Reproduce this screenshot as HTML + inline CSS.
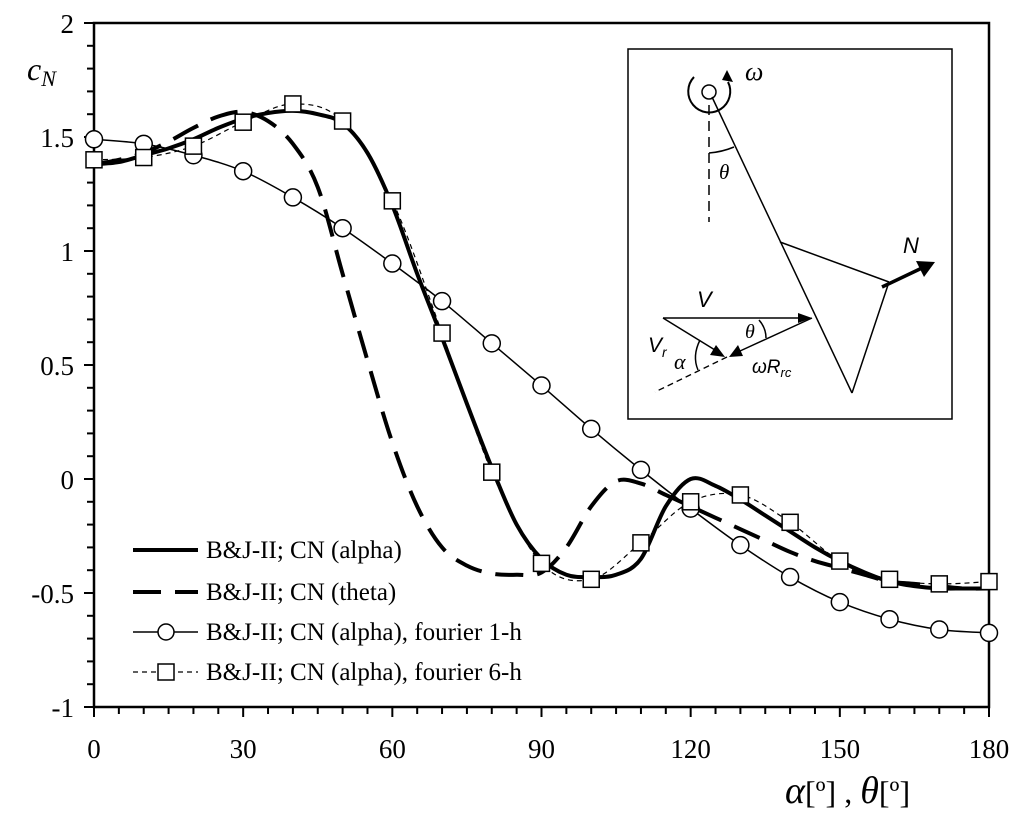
<!DOCTYPE html>
<html><head><meta charset="utf-8"><style>
html,body{margin:0;padding:0;background:#fff;}
svg{display:block;font-family:"Liberation Serif",serif;}
</style></head><body>
<svg id="chart" width="1024" height="817" viewBox="0 0 1024 817">
<g id="axes"></g><g id="series"></g>
<g id="inset">
<rect x="628" y="49" width="324" height="370" fill="#fff" stroke="#000" stroke-width="1.5"/>
<circle cx="709" cy="92" r="7" fill="#fff" stroke="#000" stroke-width="1.5"/>
<path d="M694,77 A21,21 0 1,0 728,82" fill="none" stroke="#000" stroke-width="2"/>
<polygon points="727,70 733,82 722,80" fill="#000"/>
<text x="745" y="80" font-size="26" font-style="italic" font-family="Liberation Serif,serif">ω</text>
<line x1="709" y1="105" x2="709" y2="222" stroke="#000" stroke-width="1.5" stroke-dasharray="10,6"/>
<line x1="712" y1="97" x2="852" y2="393" stroke="#000" stroke-width="1.5"/>
<line x1="780" y1="242" x2="889" y2="282" stroke="#000" stroke-width="1.5"/>
<line x1="889" y1="282" x2="852" y2="393" stroke="#000" stroke-width="1.5"/>
<line x1="882" y1="287" x2="922" y2="268" stroke="#000" stroke-width="3.5"/>
<polygon points="935,262 916,261 924,277" fill="#000"/>
<text x="903" y="253" font-size="22" font-style="italic" font-family="Liberation Sans,sans-serif">N</text>
<path d="M709,153 Q722,152 734,147" fill="none" stroke="#000" stroke-width="1.5"/>
<text x="719" y="179" font-size="21" font-style="italic">θ</text>
<line x1="663" y1="318" x2="800" y2="318" stroke="#000" stroke-width="1.5"/>
<polygon points="812,318 798,313 798,323" fill="#000"/>
<text x="697" y="307" font-size="22" font-style="italic" font-family="Liberation Sans,sans-serif">V</text>
<line x1="663" y1="318" x2="715" y2="350" stroke="#000" stroke-width="1.5"/>
<polygon points="725,357 710,355 716,345" fill="#000"/>
<text x="648" y="352" font-size="21" font-style="italic" font-family="Liberation Sans,sans-serif">V<tspan font-size="14" dy="5">r</tspan></text>
<line x1="812" y1="318" x2="740" y2="351" stroke="#000" stroke-width="1.5"/>
<polygon points="729,357 738,345 743,356" fill="#000"/>
<text x="752" y="373" font-size="19" font-style="italic" font-family="Liberation Sans,sans-serif">ωR<tspan font-size="13" dy="4">rc</tspan></text>
<path d="M759,320 Q766,328 766,338" fill="none" stroke="#000" stroke-width="1.5"/>
<text x="745" y="338" font-size="20" font-style="italic">θ</text>
<line x1="727" y1="357" x2="655" y2="392" stroke="#000" stroke-width="1.3" stroke-dasharray="6,4"/>
<path d="M700,340 Q692,356 698,370" fill="none" stroke="#000" stroke-width="1.5"/>
<text x="674" y="369" font-size="22" font-style="italic">α</text>
</g>
<g id="legend">
<g><line x1="133" y1="550" x2="198" y2="550" stroke="#000" stroke-width="4"/><text x="206" y="558" font-size="25">B&amp;J-II; CN (alpha)</text></g>
<g><line x1="133" y1="592" x2="198" y2="592" stroke="#000" stroke-width="4" stroke-dasharray="28,14"/><text x="206" y="600" font-size="25">B&amp;J-II; CN (theta)</text></g>
<g><line x1="133" y1="632" x2="198" y2="632" stroke="#000" stroke-width="1.5"/><circle cx="166" cy="632" r="8" fill="#fff" stroke="#000" stroke-width="1.5"/><text x="206" y="640" font-size="25">B&amp;J-II; CN (alpha), fourier 1-h</text></g>
<g><line x1="133" y1="672" x2="198" y2="672" stroke="#000" stroke-width="1.2" stroke-dasharray="5,4"/><rect x="158" y="664" width="16" height="16" fill="#fff" stroke="#000" stroke-width="1.5"/><text x="206" y="680" font-size="25">B&amp;J-II; CN (alpha), fourier 6-h</text></g>
</g>
</svg>
<script>
const xTicks=[0,30,60,90,120,150,180];
const yTicks=[-1,-0.5,0,0.5,1,1.5,2];
const yTickLabels=["-1","-0.5","0","0.5","1","1.5","2"];
const fAngles=[0,10,20,30,40,50,60,70,80,90,100,110,120,130,140,150,160,170,180];
const fourier1=[1.49,1.47,1.42,1.35,1.235,1.10,0.945,0.78,0.595,0.41,0.22,0.04,-0.13,-0.29,-0.43,-0.54,-0.615,-0.66,-0.675];
const fourier6=[1.40,1.41,1.46,1.565,1.645,1.57,1.22,0.64,0.03,-0.37,-0.44,-0.28,-0.10,-0.07,-0.19,-0.36,-0.44,-0.46,-0.45];
const cAngles=[0,5,10,15,20,25,30,35,40,45,50,55,60,65,70,75,80,85,90,95,100,105,110,115,120,125,130,135,140,145,150,155,160,165,170,175,180];
const cnAlpha=[1.38,1.39,1.42,1.45,1.49,1.54,1.58,1.605,1.615,1.60,1.56,1.43,1.2,0.9,0.62,0.33,0.05,-0.2,-0.35,-0.42,-0.43,-0.42,-0.35,-0.12,0.0,-0.03,-0.09,-0.16,-0.23,-0.30,-0.36,-0.41,-0.45,-0.47,-0.48,-0.48,-0.48];
const cnTheta=[1.38,1.40,1.43,1.48,1.54,1.59,1.61,1.57,1.47,1.28,0.90,0.52,0.16,-0.12,-0.30,-0.38,-0.415,-0.42,-0.41,-0.30,-0.12,-0.01,-0.02,-0.07,-0.12,-0.17,-0.22,-0.27,-0.32,-0.36,-0.39,-0.42,-0.45,-0.46,-0.47,-0.48,-0.48];
const NS="http://www.w3.org/2000/svg";
const L=94,R=989,T=23,B=707;
const X=a=>L+(a/180)*(R-L);
const Y=v=>B-((v+1)/3)*(B-T);
function mk(tag,attrs,parent){const e=document.createElementNS(NS,tag);for(const k in attrs)e.setAttribute(k,attrs[k]);parent.appendChild(e);return e;}
const ax=document.getElementById('axes');
const frame=mk('rect',{x:L,y:T,width:R-L,height:B-T,fill:'none',stroke:'#000','stroke-width':2.5},ax);


for(let a=0;a<=180;a+=5){const big=a%30===0;const t=mk('line',{x1:X(a),x2:X(a),y1:B,y2:B+(big?10:7),stroke:'#000','stroke-width':2},ax);

}
for(let i=0;i<=30;i++){const v=-1+i*0.1;const t=mk('line',{x1:L-(i%5===0?10:7),x2:L,y1:Y(v),y2:Y(v),stroke:'#000','stroke-width':2},ax);

}
xTicks.forEach(a=>{const t=mk('text',{x:X(a),y:758,'font-size':27,'text-anchor':'middle'},ax);t.textContent=a;

});
yTicks.forEach((v,i)=>{const t=mk('text',{x:74,y:Y(v)+10,'font-size':27,'text-anchor':'end'},ax);t.textContent=yTickLabels[i];

});
const yt=mk('text',{x:27,y:80,'font-size':32,'font-style':'italic'},ax);yt.innerHTML='c<tspan font-size="22" dy="6">N</tspan>';


const xt=mk('text',{x:785,y:803,'font-size':32},ax);xt.innerHTML='<tspan font-style="italic" font-size="38">α</tspan>[º] , <tspan font-style="italic" font-size="38">θ</tspan>[º]';


function smooth(xs,ys){const p=xs.map((a,i)=>[X(a),Y(ys[i])]);let d='M'+p[0][0]+','+p[0][1];
for(let i=0;i<p.length-1;i++){const p0=p[i-1]||p[i],p1=p[i],p2=p[i+1],p3=p[i+2]||p2;
d+=` C${p1[0]+(p2[0]-p0[0])/6},${p1[1]+(p2[1]-p0[1])/6} ${p2[0]-(p3[0]-p1[0])/6},${p2[1]-(p3[1]-p1[1])/6} ${p2[0]},${p2[1]}`;}return d;}
const sg=document.getElementById('series');
const s6=mk('path',{d:smooth(fAngles,fourier6),fill:'none',stroke:'#000','stroke-width':1.2,'stroke-dasharray':'5,4'},sg);


const s1=mk('path',{d:smooth(fAngles,fourier1),fill:'none',stroke:'#000','stroke-width':1.5},sg);


const sth=mk('path',{d:smooth(cAngles,cnTheta),fill:'none',stroke:'#000','stroke-width':4,'stroke-dasharray':'28,14'},sg);


const sal=mk('path',{d:smooth(cAngles,cnAlpha),fill:'none',stroke:'#000','stroke-width':4},sg);


fAngles.forEach((a,i)=>{const c=mk('circle',{cx:X(a),cy:Y(fourier1[i]),r:8.5,fill:'#fff',stroke:'#000','stroke-width':1.5},sg);

});
fAngles.forEach((a,i)=>{const r=mk('rect',{x:X(a)-8,y:Y(fourier6[i])-8,width:16,height:16,fill:'#fff',stroke:'#000','stroke-width':1.5},sg);

});
</script>
</body></html>
